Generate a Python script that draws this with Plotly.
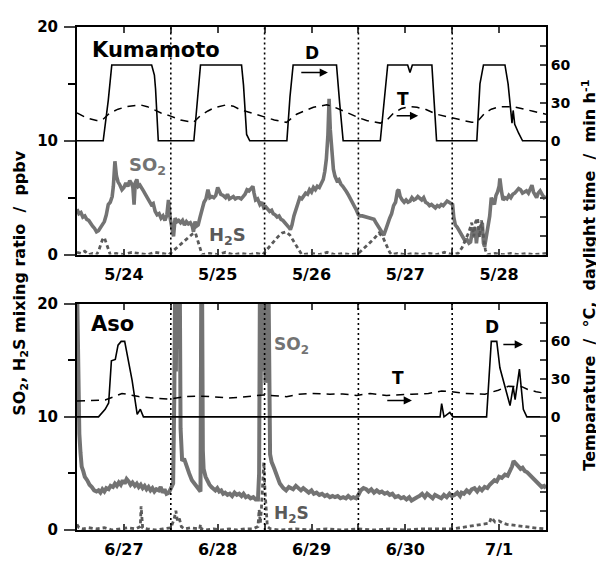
import plotly.graph_objects as go

# ---------------- data ----------------
tick_hours = [0, 12, 24, 36, 48, 60, 72, 84, 96, 108, 120]
top_dates = ["5/24", "5/25", "5/26", "5/27", "5/28"]
bot_dates = ["6/27", "6/28", "6/29", "6/30", "7/1"]
day_boundaries = [24, 48, 72, 96]
left_ticks = [0, 10, 20]
left_labels = ["0", "10", "20"]
left_minor = [5, 15]
right_ticks = [-90, -75, -60, -45, -30, -15, 0, 15, 30, 45, 60, 75, 90]
right_labels = ["", "", "", "", "", "", "0", "", "30", "", "60", "", ""]

# Kumamoto SO2 (ppbv)
kum_so2_h = [0, 0.5, 1, 1.5, 2, 2.5, 3, 3.5, 4, 4.5, 5, 5.5, 6, 6.5, 7, 7.5, 8, 8.5, 9, 9.3, 9.7, 10.1, 10.5, 11, 11.5,
             12, 12.5, 13, 13.5, 14, 14.3, 14.6, 14.9, 15.3, 15.7, 16.1, 16.5, 17, 17.5, 18, 18.5, 19, 19.5, 20, 20.5,
             21, 21.5, 22, 22.5, 23, 23.4, 23.8, 24.3, 24.7, 25.1, 25.6, 26, 26.5, 27, 27.5, 28, 28.5, 29, 29.5, 29.8,
             30.2, 30.6, 31, 31.5, 32, 32.5, 33, 33.5, 34, 34.5, 35, 35.5, 36, 36.3, 36.8, 37.4, 38, 38.5, 39, 39.5, 40,
             40.5, 41, 41.5, 42, 42.5, 43, 43.5, 44, 44.5, 45, 45.3, 45.7, 46.2, 46.8, 47.3, 47.8, 48.3, 48.8, 49.3,
             49.8, 50.2, 50.7, 51.2, 51.7, 52.2, 52.7, 53.2, 53.7, 54.2, 54.6, 55, 55.5, 56, 56.5, 57, 57.5, 58, 58.5,
             59, 59.5, 60, 60.5, 61, 61.5, 62, 62.5, 63, 63.4, 63.8, 64.2, 64.5, 64.8, 65.2, 65.6, 66, 66.5, 67, 67.5,
             68, 68.5, 69, 69.5, 70, 70.5, 71, 71.5, 72, 72.5, 73, 74, 75, 76, 76.5, 77, 77.5, 78, 78.5, 79, 79.5, 80,
             80.5, 81, 81.5, 82, 82.3, 82.7, 83.2, 83.7, 84.2, 84.7, 85.2, 85.7, 86.2, 86.7, 87.2, 87.7, 88.2, 88.7,
             89.2, 89.7, 90.2, 90.7, 91.2, 91.7, 92.2, 92.7, 93.2, 93.7, 94.2, 94.7, 95.2, 95.7, 96.1, 96.4, 96.8, 97.3,
             97.8, 98.3, 98.8, 99.3, 99.8, 100.3, 100.7, 101, 101.3, 101.6, 101.9, 102.2, 102.6, 103, 103.4, 103.7, 104,
             104.3, 104.8, 105.2, 105.6, 106, 106.4, 106.8, 107.2, 107.6, 108, 108.2, 108.6, 109, 109.5, 110, 110.5,
             111, 111.5, 112, 112.5, 113, 113.5, 114, 114.5, 115, 115.5, 116, 116.4, 116.8, 117.3, 117.6, 118, 118.5,
             119, 119.5, 120]
kum_so2 = [4.0, 3.6, 3.7, 3.3, 3.4, 3.1, 3.0, 2.7, 2.5, 2.3, 2.0, 2.1, 2.4, 2.7, 2.9, 3.5, 4.4, 4.6, 5.1, 6.0, 8.2, 6.9,
           6.4, 6.1, 5.7, 5.9, 6.3, 6.0, 6.5, 6.2, 5.9, 4.4, 6.3, 6.6, 6.0, 6.1, 5.8, 5.6, 5.3, 5.0, 4.8, 4.4, 4.5, 3.8,
           3.5, 3.6, 3.2, 3.4, 3.0, 3.5, 4.8, 3.3, 2.3, 1.6, 3.2, 2.9, 3.0, 2.8, 3.0, 2.6, 2.9, 2.7, 2.8, 2.5, 2.0, 2.9,
           2.5, 2.6, 3.3, 4.0, 4.6, 4.9, 5.7, 5.0, 5.1, 5.0, 5.2, 5.9, 5.6, 5.3, 5.2, 5.0, 5.3, 4.9, 5.0, 5.1, 4.9, 5.0,
           5.0, 4.9, 5.1, 5.3, 5.7, 5.6, 5.8, 6.0, 5.4, 4.8, 4.9, 4.4, 4.6, 4.1, 4.2, 4.0, 3.8, 3.9, 3.6, 3.5, 3.3, 3.4,
           3.1, 3.0, 2.8, 2.7, 2.4, 2.2, 2.6, 3.4, 4.0, 4.5, 5.0, 4.9, 5.1, 5.4, 5.3, 5.7, 5.5, 5.9, 5.7, 6.0, 5.9, 6.3,
           6.6, 7.3, 8.4, 10.5, 13.7, 11.0, 8.9, 7.5, 6.9, 6.5, 6.6, 6.2, 6.0, 5.8, 5.5, 5.2, 4.9, 4.5, 4.3, 3.9, 3.5,
           3.4, 3.4, 3.3, 3.2, 3.1, 2.8, 2.5, 2.2, 1.9, 1.7, 2.2, 2.8, 3.2, 3.6, 4.3, 4.6, 5.6, 5.7, 5.1, 4.8, 4.6, 4.8,
           4.6, 4.7, 5.0, 4.8, 4.9, 5.1, 4.9, 4.8, 5.0, 4.6, 4.5, 4.3, 4.4, 4.2, 4.1, 4.3, 4.2, 4.4, 4.3, 4.5, 4.7, 4.6,
           4.5, 4.4, 3.3, 2.6, 2.4, 2.1, 1.7, 1.5, 1.2, 1.3, 1.0, 1.1, 2.0, 2.4, 1.5, 2.2, 1.0, 2.3, 2.4, 2.0, 2.8, 1.0,
           0.7, 1.8, 2.2, 3.4, 5.0, 4.6, 4.4, 5.2, 5.5, 6.0, 6.7, 5.6, 4.8, 5.0, 4.9, 5.2, 5.0, 5.3, 5.4, 5.6, 5.8, 5.7,
           5.4, 5.5, 5.6, 5.4, 5.8, 6.1, 5.5, 5.2, 5.0, 5.4, 5.6, 5.3, 5.0, 5.1]

# Kumamoto H2S (ppbv)
kum_h2s_h = [0, 1, 2, 3, 4, 5, 5.5, 6, 6.5, 7, 7.5, 8, 8.5, 10, 12, 14, 16, 18, 20, 22, 23.5, 24.5, 25.5, 26.5, 27.5,
             28.5, 29.5, 30.3, 31, 31.6, 32, 34, 36, 38, 40, 42, 44, 46, 47.5, 48.5, 49.5, 50.5, 51.5, 52.5, 53.5, 54.5,
             55.5, 56.5, 57.5, 60, 62, 64, 66, 68, 70, 72, 73, 74.5, 76, 77.3, 78.3, 79.2, 80, 80.5, 82, 84, 86, 88, 90,
             92, 94, 96, 97.5, 98.5, 99.5, 100.3, 101, 101.5, 102, 102.5, 103, 103.5, 104, 104.5, 105, 107, 109, 111,
             113, 115, 117, 120]
kum_h2s = [0.2, 0.1, 0.3, 0.0, 0.1, 0.0, 0.3, 0.8, 1.3, 1.5, 1.0, 0.3, 0.0, 0.1, 0.0, 0.2, 0.1, 0.0, 0.2, 0.1, 0.0, 0.3,
           0.6, 0.9, 1.2, 1.5, 1.8, 1.9, 1.2, 0.4, 0.0, 0.1, 0.0, 0.2, 0.0, 0.1, 0.0, 0.1, 0.0, 0.4, 0.8, 1.2, 1.6, 1.9,
           2.0, 1.7, 1.1, 0.5, 0.0, 0.1, 0.0, 0.2, 0.0, 0.1, 0.0, 0.1, 0.4, 0.9, 1.4, 1.9, 1.5, 0.8, 0.2, 0.0, 0.1, 0.0,
           0.1, 0.0, 0.1, 0.0, 0.2, 0.0, 0.1, 0.6, 1.3, 2.0, 2.8, 1.6, 2.9, 3.2, 1.5, 3.0, 1.6, 0.4, 0.0, 0.1, 0.0, 0.1,
           0.0, 0.1, 0.0, 0.1]

# Kumamoto daylight time (min/h)
kum_d_h = [0, 6.7, 8, 8.9, 19.1, 19.8, 20.1, 20.8, 29.9, 30.8, 31.6, 42.1, 42.6, 43.4, 44.2, 53.7, 54.5, 55.3, 66.4,
           67.2, 68.1, 77.6, 78.8, 79.5, 84.6, 85.2, 85.8, 90.8, 91.4, 92, 102.3, 103.1, 104, 109.5, 110.3, 111,
           111.3, 111.6, 112, 113, 114, 120]
kum_d = [0, 0, 32, 60, 60, 52, 41, 0, 0, 30, 60, 60, 44, 5, 0, 0, 35, 60, 60, 30, 0, 0, 40, 60, 60, 54, 60, 60, 30, 0,
         0, 45, 60, 60, 45, 20, 14, 24, 13, 6, 0, 0]

# Kumamoto temperature (deg C)
kum_t_h = [0, 2.5, 5, 6.5, 8.4, 10.5, 12.7, 16.1, 18, 19.5, 21.5, 23.8, 26.5, 29.8, 31.5, 33.5, 35, 38.3, 40, 41.7,
           44.3, 47.7, 50.5, 53.6, 56.2, 58.5, 60.5, 62.2, 63.9, 65.6, 68.1, 70, 72, 74.1, 77.6, 79.5, 81, 83, 85, 87,
           89.3, 92, 95.5, 98.5, 101, 102.3, 104.4, 106, 108.2, 111.6, 114, 116.7, 120]
kum_t = [22, 18, 16, 16.5, 22, 25, 27, 28.5, 27, 24.7, 22, 19.7, 16.5, 14.6, 19.7, 23.6, 26, 28.5, 27.4, 24.7, 22.3,
         19.7, 16.5, 14.6, 21, 24, 26.5, 27.5, 28.5, 27, 23.4, 21, 18.4, 16, 14, 17, 22, 25.5, 27, 26.5, 24.7, 21, 18.4,
         16, 14.6, 14.7, 22, 25, 27, 27, 25.5, 23.4, 21]

# Aso SO2 (ppbv)
aso_so2_h = [0, 0.3, 0.6, 0.9, 1.2, 1.6, 2.0, 2.6, 3.2, 3.8, 4.4, 5.0, 5.5, 6, 6.5, 7, 7.5, 8.1, 8.6, 9.2, 9.7, 10.2,
             10.7, 11.2, 11.7, 12.2, 12.7, 13.2, 13.7, 14.2, 14.8, 15.3, 15.8, 16.3, 16.8, 17.3, 17.8, 18.3, 18.8, 19.3,
             19.8, 20.3, 20.9, 21.4, 21.9, 22.4, 22.9, 23.5, 24, 24.6, 24.9, 25.1, 25.3, 25.5, 25.7, 25.9, 26.1, 26.3,
             26.5, 26.9, 27.4, 28.1, 28.7, 29.4, 30, 30.7, 31.2, 31.6, 31.8, 32.0, 32.2, 32.4, 32.9, 33.4, 33.9, 34.4,
             34.9, 35.4, 35.9, 36.4, 36.9, 37.4, 37.9, 38.5, 39.1, 39.7, 40.3, 40.9, 41.5, 42.1, 42.6, 43.2, 43.8, 44.4,
             45.1, 45.7, 46.3, 46.6, 46.8, 47.0, 47.2, 47.4, 47.6, 47.8, 48.0, 48.2, 48.4, 48.6, 48.8, 49.0, 49.4, 49.8,
             50.4, 51.1, 51.9, 52.8, 53.5, 54.2, 55.3, 56, 56.6, 57.3, 57.9, 58.6, 59.3, 60, 60.6, 61.3, 62, 62.7, 63.4,
             64, 64.7, 65.4, 66, 66.7, 67.4, 68.1, 68.8, 69.4, 70.1, 70.7, 71.4, 72, 72.6, 73.3, 74, 74.6, 75.3, 76,
             76.7, 77.4, 78, 78.7, 79.4, 80, 80.7, 81.4, 82.2, 82.9, 83.6, 84.3, 85, 85.6, 86.3, 87, 87.6, 88.3, 89,
             89.6, 90.3, 91, 91.6, 92.5, 93.2, 93.9, 94.6, 95.3, 95.9, 96.6, 97.3, 98, 98.4, 99, 99.7, 100.4, 101,
             101.7, 102.4, 103, 103.6, 104.3, 105, 105.6, 106.1, 106.8, 107.4, 108, 108.7, 109.5, 110.2, 110.8, 111.3,
             111.7, 112.2, 112.9, 113.5, 114, 114.6, 115.2, 115.8, 116.4, 117, 117.6, 118.3, 118.9, 119.5, 120]
aso_so2 = [22, 11.5, 8.5, 6.8, 5.6, 5.2, 4.7, 4.4, 4.0, 3.8, 3.5, 3.4, 3.5, 3.3, 3.6, 3.4, 3.7, 3.6, 3.9, 3.8, 4.1, 3.9,
           4.2, 4.0, 4.4, 4.1, 4.5, 4.3, 4.0, 4.2, 3.9, 4.1, 3.8, 4.0, 3.7, 3.9, 3.6, 3.8, 3.5, 3.7, 3.4, 3.6, 3.5, 3.8,
           3.3, 3.6, 3.2, 3.3, 3.6, 4.1, 12, 22, 14, 22, 16, 22, 18, 22, 9, 6.1, 6.3, 5.5, 5.0, 4.4, 4.1, 3.8, 3.6, 3.4,
           22, 22, 7.0, 5.4, 4.7, 4.3, 4.0, 3.8, 3.6, 3.5, 3.7, 3.4, 3.5, 3.2, 3.3, 3.1, 3.2, 3.0, 3.3, 3.1, 3.2, 3.0,
           3.2, 2.9, 3.0, 2.8, 2.9, 2.7, 2.7, 5, 22, 12, 22, 14, 22, 16, 22, 13, 22, 15, 22, 22, 6.7, 6.0, 5.5, 4.8, 4.1,
           3.7, 3.5, 3.8, 3.6, 3.9, 3.7, 3.5, 3.7, 3.5, 3.3, 3.5, 3.2, 3.3, 3.1, 3.2, 3.0, 3.1, 2.9, 3.0, 2.9, 3.0, 2.8,
           2.9, 2.8, 3.0, 2.8, 2.9, 2.8, 3.1, 3.5, 3.7, 3.6, 3.4, 3.6, 3.3, 3.5, 3.3, 3.4, 3.2, 3.3, 3.1, 3.2, 2.9, 3.0,
           2.8, 2.9, 2.7, 2.9, 2.6, 2.8, 2.9, 3.0, 3.2, 2.9, 3.2, 3.0, 2.8, 3.1, 2.9, 2.8, 3.1, 2.9, 3.2, 3.0, 3.1, 3.3,
           3.0, 3.3, 3.2, 3.5, 3.3, 3.6, 3.7, 3.4, 3.7, 3.5, 3.8, 3.7, 4.0, 4.2, 4.4, 4.3, 4.7, 4.6, 4.9, 4.8, 5.2, 5.6,
           6.1, 5.9, 5.7, 5.4, 5.5, 5.2, 5.1, 4.9, 4.7, 4.5, 4.3, 4.0, 3.8, 3.9, 3.7, 3.9]

# Aso H2S (ppbv)
aso_h2s_h = [0, 0.5, 1.5, 3, 5, 7, 9, 11, 13, 15, 16.2, 16.4, 16.6, 16.8, 18, 20, 22, 24, 24.8, 25.3, 25.7, 26.2, 26.7,
             27.5, 29, 31.4, 31.6, 31.8, 33, 35, 37, 39, 41, 43, 45, 46.3, 46.6, 46.9, 47.2, 47.5, 47.8, 48.1, 48.4,
             48.7, 49.5, 52, 56, 60, 64, 68, 72, 76, 80, 84, 88, 92, 96, 98, 100, 102, 104, 105.5, 106, 107, 108, 109,
             110, 112, 114, 116, 118, 120]
aso_h2s = [0.5, 0.2, 0.1, 0.2, 0.1, 0.2, 0.0, 0.1, 0.2, 0.1, 0.3, 2.1, 0.9, 0.2, 0.1, 0.0, 0.1, 0.2, 0.9, 1.7, 0.8, 1.0,
           0.3, 0.1, 0.2, 0.1, 0.5, 0.1, 0.0, 0.1, 0.0, 0.1, 0.0, 0.1, 0.1, 0.3, 1.8, 0.6, 2.0, 4.0, 6.0, 3.5, 1.2, 0.3,
           0.1, 0.0, 0.1, 0.0, 0.1, 0.0, 0.1, 0.0, 0.1, 0.0, 0.1, 0.1, 0.1, 0.2, 0.3, 0.4, 0.5, 0.6, 1.1, 0.7, 0.8, 0.6,
           0.5, 0.4, 0.35, 0.2, 0.15, 0.1]

# Aso daylight time (min/h)
aso_d_h = [0, 5.5, 7.2, 8.1, 8.8, 9.8, 10.5, 11.3, 12.2, 13.2, 14.1, 15.4, 16.2, 17, 92.9, 93.3, 93.9, 95.4, 96.2,
           104.8, 106, 107.4, 108.2, 110.8, 111.6, 112.1, 113.2, 114.2, 115.1, 120]
aso_d = [0, 0, 6, 11, 44.5, 45.6, 57, 60, 60, 44.5, 29, 2, 6, 0, 0, 10.5, 0, 3.5, 0, 0, 60, 60, 39, 9, 23.8, 13.6, 38,
         6, 0, 0]

# Aso temperature (deg C)
aso_t_h = [0, 4, 7.2, 9.5, 11.5, 13.5, 15.8, 19.5, 23.5, 27.7, 31, 34.5, 38.8, 41.7, 44.5, 47.7, 50.5, 53.6, 56.5, 59.6,
           64.7, 68, 71.6, 75, 79.2, 82, 85.6, 89.9, 93.3, 95.9, 99.3, 102, 104.4, 107.8, 110.4, 113.8, 115.5, 117.5,
           120]
aso_t = [12.5, 13, 13.4, 16, 18.6, 17.5, 16.1, 15, 14, 16, 16.5, 16, 15, 15.6, 16.5, 17.4, 16.8, 16, 17.8, 18.6, 18,
         18.2, 17, 18.6, 16.9, 17.5, 18, 18.5, 20.5, 20, 18.6, 18.2, 18, 21.2, 24.3, 24, 21.5, 20, 18.6]

# ---------------- figure ----------------
FONT = "DejaVu Sans"
SO2_COLOR = "#737373"
H2S_COLOR = "#5a5a5a"

fig = go.Figure()

panels = [
    ("x", "y", "y2", kum_so2_h, kum_so2, kum_h2s_h, kum_h2s, kum_d_h, kum_d, kum_t_h, kum_t, 3.6),
    ("x2", "y3", "y4", aso_so2_h, aso_so2, aso_h2s_h, aso_h2s, aso_d_h, aso_d, aso_t_h, aso_t, 4.0),
]
for xa, ya, yb, sh, sv, hh, hv, dh, dv, th, tv, sw in panels:
    fig.add_trace(go.Scatter(x=sh, y=sv, xaxis=xa, yaxis=ya, mode="lines",
                             line=dict(color=SO2_COLOR, width=sw), showlegend=False))
    fig.add_trace(go.Scatter(x=hh, y=hv, xaxis=xa, yaxis=ya, mode="lines",
                             line=dict(color=H2S_COLOR, width=2.8, dash="4px,3px"), showlegend=False))
    fig.add_trace(go.Scatter(x=dh, y=dv, xaxis=xa, yaxis=yb, mode="lines",
                             line=dict(color="black", width=1.6), showlegend=False))
    fig.add_trace(go.Scatter(x=th, y=tv, xaxis=xa, yaxis=yb, mode="lines",
                             line=dict(color="black", width=1.5, dash="8px,6px"), showlegend=False))


def xaxis_cfg(dates, anchor):
    texts = []
    for h in tick_hours:
        texts.append(dates[(h - 12) // 24] if h % 24 == 12 else "")
    return dict(range=[0, 120], tickvals=tick_hours, ticktext=texts, ticks="inside", ticklen=6,
                tickwidth=1.5, showline=True, linewidth=2, linecolor="black", mirror="ticks",
                showgrid=False, zeroline=False, anchor=anchor, ticklabelstandoff=4,
                tickfont=dict(family=FONT, size=16, color="black", weight="bold"))


def left_cfg(domain, anchor):
    return dict(domain=domain, range=[0, 20], tickvals=left_ticks, ticktext=left_labels, ticks="outside",
                ticklen=11, tickwidth=1.5, showline=True, linewidth=2, linecolor="black", mirror=True,
                minor=dict(tickvals=left_minor, ticks="outside", ticklen=7, tickwidth=1.5, tickcolor="black",
                           showgrid=False),
                showgrid=False, zeroline=False, anchor=anchor, ticklabelstandoff=3,
                tickfont=dict(family=FONT, size=15, color="black", weight="bold"))


def right_cfg(overlay, anchor):
    return dict(overlaying=overlay, side="right", range=[-90, 90], tickvals=right_ticks, ticktext=right_labels,
                ticks="inside", ticklen=6, tickwidth=1.5, showline=True, linewidth=2, linecolor="black",
                showgrid=False, zeroline=False, anchor=anchor,
                tickfont=dict(family=FONT, size=14, color="black", weight="bold"))


shapes = []
for xa in ["x", "x2"]:
    yref = "y domain" if xa == "x" else "y3 domain"
    for b in day_boundaries:
        shapes.append(dict(type="line", xref=xa, yref=yref, x0=b, x1=b, y0=0, y1=1,
                           line=dict(color="black", width=1.6, dash="2px,3px")))


def label(x, y, text, xref, yref, size, color="black", xanchor="center"):
    return dict(x=x, y=y, xref=xref, yref=yref, text=text, showarrow=False, xanchor=xanchor, yanchor="middle",
                font=dict(family=FONT, size=size, color=color, weight="bold"))


def arrow(x0, x1, y, xref, yref):
    return dict(x=x1, y=y, ax=x0, ay=y, xref=xref, yref=yref, axref=xref, ayref=yref, text="",
                showarrow=True, arrowhead=2, arrowsize=1.1, arrowwidth=1.5, arrowcolor="black")


annotations = [
    label(3.3, 18.0, "Kumamoto", "x", "y", 21, xanchor="left"),
    label(12.8, 7.8, "SO<sub>2</sub>", "x", "y", 18, SO2_COLOR, xanchor="left"),
    label(33.3, 1.6, "H<sub>2</sub>S", "x", "y", 18, H2S_COLOR, xanchor="left"),
    label(60.1, 17.7, "D", "x", "y", 17),
    arrow(57.0, 64.2, 16.0, "x", "y"),
    label(83.4, 13.7, "T", "x", "y", 17),
    arrow(81.4, 87.3, 12.2, "x", "y"),
    label(3.1, 18.2, "Aso", "x2", "y3", 21, xanchor="left"),
    label(49.9, 16.3, "SO<sub>2</sub>", "x2", "y3", 17, SO2_COLOR, xanchor="left"),
    label(49.9, 1.4, "H<sub>2</sub>S", "x2", "y3", 17, H2S_COLOR, xanchor="left"),
    label(82.1, 13.4, "T", "x2", "y3", 17),
    arrow(79.0, 85.7, 11.45, "x2", "y3"),
    label(106.2, 17.95, "D", "x2", "y3", 17),
    arrow(108.7, 114.1, 16.4, "x2", "y3"),
    dict(x=-0.121, y=0.492, xref="paper", yref="paper", text="SO<sub>2</sub>, H<sub>2</sub>S mixing ratio  /  ppbv",
         showarrow=False, textangle=-90, xanchor="center", yanchor="middle",
         font=dict(family=FONT, size=16, color="black", weight="bold")),
    dict(x=1.092, y=0.506, xref="paper", yref="paper",
         text="Temparature  /  °C,  daylight time  /  min h<sup>-1</sup>",
         showarrow=False, textangle=-90, xanchor="center", yanchor="middle",
         font=dict(family=FONT, size=16, color="black", weight="bold")),
]

# the page body adds an 8 px offset; the figure is sized to fit the 604x569 window
fig.update_layout(
    width=596, height=561,
    margin=dict(l=69, r=58, t=10, b=31),
    paper_bgcolor="white", plot_bgcolor="white",
    font=dict(family=FONT, color="black", weight="bold"),
    xaxis=xaxis_cfg(top_dates, "y"),
    xaxis2=xaxis_cfg(bot_dates, "y3"),
    yaxis=left_cfg([0.5475, 1.0], "x"),
    yaxis2=right_cfg("y", "x"),
    yaxis3=left_cfg([0.0, 0.45], "x2"),
    yaxis4=right_cfg("y3", "x2"),
    shapes=shapes,
    annotations=annotations,
    showlegend=False,
)

fig.write_html("out.html")
